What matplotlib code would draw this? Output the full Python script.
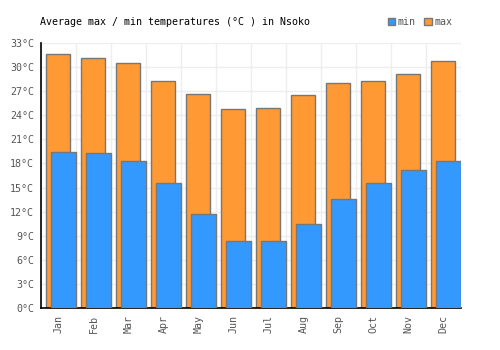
import numpy as np
import matplotlib.pyplot as plt
from matplotlib.patches import Patch

months = ["Jan", "Feb", "Mar", "Apr", "May", "Jun",
          "Jul", "Aug", "Sep", "Oct", "Nov", "Dec"]
t_max = [31.6, 31.2, 30.5, 28.3, 26.6, 24.8, 24.9, 26.5, 28.0, 28.3, 29.1, 30.8]
t_min = [19.4, 19.3, 18.3, 15.6, 11.7, 8.3, 8.3, 10.5, 13.6, 15.6, 17.2, 18.3]
y_ticks = list(range(0, 34, 3))

plt.rcParams["font.family"] = "DejaVu Sans Mono"

fig = plt.figure(figsize=(5, 3.5), dpi=100)
ax = fig.add_axes([0.082, 0.12, 0.84, 0.757])

x = np.arange(len(months))
ax.bar(x - 0.014, t_max, width=0.686, color="#ff9933",
       edgecolor="#777777", linewidth=1, zorder=2)
ax.bar(x + 0.143, t_min, width=0.714, color="#3399ff",
       edgecolor="#777777", linewidth=1, zorder=3)

ax.set_xlim(-0.5, 11.5)
ax.set_ylim(0, 33)
ax.set_yticks(y_ticks)
ax.set_yticklabels([f"{v}°C" for v in y_ticks])
ax.set_xticks(x)
ax.set_xticklabels(months, rotation=90)
ax.set_xticks(np.arange(-0.5, 12, 1), minor=True)

ax.grid(True, which="minor", axis="x", color="#eeeeee", linewidth=1, zorder=0)
ax.grid(True, which="major", axis="y", color="#eeeeee", linewidth=1, zorder=0)
ax.tick_params(axis="both", which="both", length=0, labelsize=7.2,
               labelcolor="#555555", pad=5)
for side in ["top", "right"]:
    ax.spines[side].set_visible(False)
for side in ["left", "bottom"]:
    ax.spines[side].set_color("black")
    ax.spines[side].set_linewidth(1.2)

fig.text(0.08, 0.937, "Average max / min temperatures (°C ) in Nsoko",
         fontsize=7.2, va="center", ha="left")

handles = [Patch(facecolor="#3399ff", edgecolor="#777777", label="min"),
           Patch(facecolor="#ff9933", edgecolor="#777777", label="max")]
fig.legend(handles=handles, loc="center right", bbox_to_anchor=(0.915, 0.937),
           ncol=2, frameon=False, fontsize=7.2, handlelength=0.75,
           handleheight=0.75, handletextpad=0.3, columnspacing=0.8,
           borderpad=0, labelcolor="#555555")

fig.savefig("out.png", dpi=100)
